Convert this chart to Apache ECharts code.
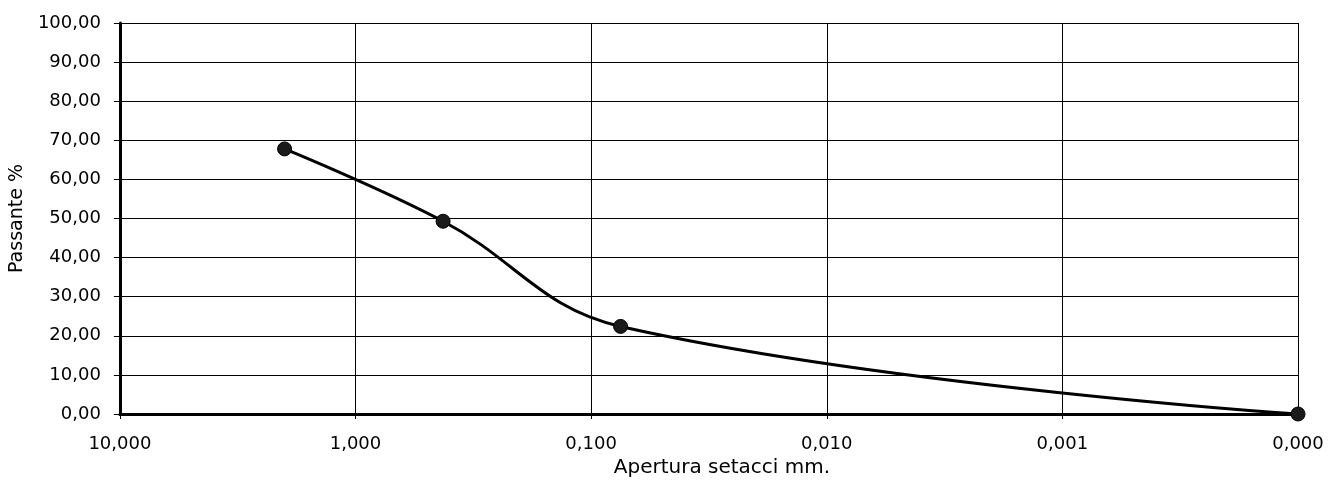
<!DOCTYPE html>
<html>
<head>
<meta charset="utf-8">
<script src="https://cdn.jsdelivr.net/npm/echarts@6/dist/echarts.min.js"></script>
<style>
html,body{margin:0;padding:0;background:#fff;}
#chart{width:1341px;height:488px;}
</style>
</head>
<body>
<div id="chart"></div>
<script>
// Sieve opening (mm) and percent passing
const sieveSizes = [2.0, 0.425, 0.075, 0.0001];
const passing = [67.8, 49.3, 22.4, 0];
const xTitle = 'Apertura setacci mm.';
const yTitle = 'Passante %';

const chart = echarts.init(document.getElementById('chart'), null, {renderer: 'canvas'});
const font = 'DejaVu Sans';
chart.setOption({
  animation: false,
  backgroundColor: '#fff',
  grid: {left: 119, right: 43, top: 23, bottom: 74, containLabel: false},
  xAxis: {
    type: 'log',
    logBase: 10,
    min: 0.0001,
    max: 10,
    inverse: true,
    name: xTitle,
    nameLocation: 'middle',
    nameGap: 36,
    nameTextStyle: {fontFamily: font, fontSize: 20, color: '#000', padding: [0, 0, 0, 26]},
    axisLine: {show: true, lineStyle: {color: '#000', width: 3}},
    axisTick: {show: true, length: 5, lineStyle: {color: '#000', width: 1}},
    axisLabel: {
      fontFamily: font, fontSize: 18, color: '#000', margin: 21,
      showMinLabel: true, showMaxLabel: true,
      formatter: v => Number(v).toFixed(3).replace('.', ',')
    },
    splitLine: {show: true, lineStyle: {color: '#000', width: 1}},
    minorTick: {show: false}
  },
  yAxis: {
    type: 'value',
    min: 0,
    max: 100,
    interval: 10,
    name: yTitle,
    nameLocation: 'middle',
    nameGap: 80,
    nameTextStyle: {fontFamily: font, fontSize: 19, color: '#000'},
    axisLine: {show: true, lineStyle: {color: '#000', width: 3}},
    axisTick: {show: true, length: 6, lineStyle: {color: '#000', width: 1}},
    axisLabel: {
      fontFamily: font, fontSize: 18, color: '#000', margin: 19,
      formatter: v => Number(v).toFixed(2).replace('.', ',')
    },
    splitLine: {show: true, lineStyle: {color: '#000', width: 1.2}}
  },
  series: [{
    type: 'line',
    data: sieveSizes.map((s, i) => [s, passing[i]]),
    smooth: 0.4,
    symbol: 'circle',
    symbolSize: 14,
    lineStyle: {color: '#000', width: 3},
    itemStyle: {color: '#1a1a1a', borderColor: '#000', borderWidth: 1},
    z: 5
  }]
});
</script>
</body>
</html>
